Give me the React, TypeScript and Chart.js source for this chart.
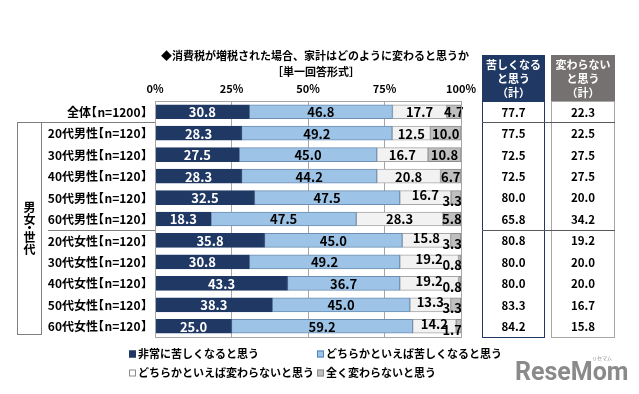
import React, { useEffect, useRef } from 'react';
import { Chart, registerables } from 'chart.js';

Chart.register(...registerables);

const categories = [
  '全体【n=1200】',
  '20代男性【n=120】',
  '30代男性【n=120】',
  '40代男性【n=120】',
  '50代男性【n=120】',
  '60代男性【n=120】',
  '20代女性【n=120】',
  '30代女性【n=120】',
  '40代女性【n=120】',
  '50代女性【n=120】',
  '60代女性【n=120】',
];
const seriesNames = [
  '非常に苦しくなると思う',
  'どちらかといえば苦しくなると思う',
  'どちらかといえば変わらないと思う',
  '全く変わらないと思う',
];
const verySevere = [30.8, 28.3, 27.5, 28.3, 32.5, 18.3, 35.8, 30.8, 43.3, 38.3, 25.0];
const somewhatSevere = [46.8, 49.2, 45.0, 44.2, 47.5, 47.5, 45.0, 49.2, 36.7, 45.0, 59.2];
const somewhatSame = [17.7, 12.5, 16.7, 20.8, 16.7, 28.3, 15.8, 19.2, 19.2, 13.3, 14.2];
const notChange = [4.7, 10.0, 10.8, 6.7, 3.3, 5.8, 3.3, 0.8, 0.8, 3.3, 1.7];
const totalHard = [77.7, 77.5, 72.5, 72.5, 80.0, 65.8, 80.8, 80.0, 80.0, 83.3, 84.2];
const totalSame = [22.3, 22.5, 27.5, 27.5, 20.0, 34.2, 19.2, 20.0, 20.0, 16.7, 15.8];
const tickValues = [0, 25, 50, 75, 100];

const title = '◆消費税が増税された場合、家計はどのように変わると思うか';
const subtitle = '［単一回答形式］';
const header1 = ['苦しくなる', 'と思う', '（計）'];
const header2 = ['変わらない', 'と思う', '（計）'];
const groupLabel = ['男', '女', '・', '世', '代'];

const FF = "'Noto Sans CJK JP', 'Noto Sans', sans-serif";
const NAVY = '#1f3864';
const fills = ['#1f3864', '#9dc3e6', '#f2f2f2', '#bfbfbf'];
const borders = ['#1f3864', '#6d8fb3', '#a6a6a6', '#8c8c8c'];
const seriesData = [verySevere, somewhatSevere, somewhatSame, notChange];

function drawCategory(c: CanvasRenderingContext2D, label: string, right: number, y: number) {
  const [pre, rest] = label.split('【');
  const inner = rest.replace('】', '');
  c.textAlign = 'left';
  const mClose = c.measureText('】');
  let x = right - mClose.actualBoundingBoxRight;
  c.fillText('】', x, y);
  const closeInkLeft = x - mClose.actualBoundingBoxLeft;
  const wInner = c.measureText(inner).width;
  const innerLeft = closeInkLeft - 0.5 - wInner;
  c.fillText(inner, innerLeft, y);
  const mOpen = c.measureText('【');
  x = innerLeft - 0.5 - mOpen.actualBoundingBoxRight;
  c.fillText('【', x, y);
  const openInkLeft = x - mOpen.actualBoundingBoxLeft;
  const wPre = c.measureText(pre).width;
  c.fillText(pre, openInkLeft - 1 - wPre, y);
}

const overlay = {
  id: 'overlay',
  beforeDraw(chart: any) {
    const c = chart.ctx;
    c.save();
    c.fillStyle = '#ffffff';
    c.fillRect(0, 0, chart.width, chart.height);
    c.restore();
  },
  afterDatasetsDraw(chart: any) {
    const c = chart.ctx;
    const area = chart.chartArea;
    c.save();
    c.font = `bold 13px ${FF}`;
    c.textBaseline = 'middle';
    for (let d = 0; d < 4; d++) {
      const meta = chart.getDatasetMeta(d);
      meta.data.forEach((bar: any, i: number) => {
        const v = seriesData[d][i];
        const p = bar.getProps(['x', 'y', 'base'], true);
        let cx = (p.x + p.base) / 2;
        let cy = p.y;
        c.textAlign = 'center';
        if (v < 4) {
          c.textAlign = 'right';
          cx = area.right + 1;
          cy += 3;
        } else if (d === 2 && notChange[i] < 4) {
          cy -= 3;
        }
        c.fillStyle = d === 0 ? '#ffffff' : '#000000';
        c.fillText(v.toFixed(1), cx, cy + 0.5);
      });
    }
    c.restore();
  },
  afterDraw(chart: any) {
    const c = chart.ctx;
    const area = chart.chartArea;
    const yS = chart.scales.y;
    c.save();
    // plot box
    c.strokeStyle = '#a6a6a6';
    c.lineWidth = 1;
    c.strokeRect(area.left + 0.5, area.top + 0.5, area.right - area.left, area.bottom - area.top);

    // category labels
    c.fillStyle = '#000';
    c.textBaseline = 'middle';
    c.font = `bold 12px ${FF}`;
    categories.forEach((lab, i) => drawCategory(c, lab, 146, yS.getPixelForValue(i) + 0.5));

    // title
    c.textAlign = 'center';
    c.font = `bold 11px ${FF}`;
    c.fillText(title, 315, 56);
    c.fillText(subtitle, 316, 72);

    const sep1 = (yS.getPixelForValue(0) + yS.getPixelForValue(1)) / 2;
    const sep2 = (yS.getPixelForValue(5) + yS.getPixelForValue(6)) / 2;

    // left group lines
    c.strokeStyle = '#7f7f7f';
    c.beginPath();
    c.moveTo(17, Math.round(sep1) + 0.5);
    c.lineTo(area.left, Math.round(sep1) + 0.5);
    c.moveTo(48, Math.round(sep2) + 0.5);
    c.lineTo(area.left, Math.round(sep2) + 0.5);
    c.stroke();
    c.strokeRect(17.5, Math.round(sep1) + 0.5, 24, area.bottom - 3 - Math.round(sep1));
    c.font = `bold 12px ${FF}`;
    const gc = (Math.round(sep1) + area.bottom - 3) / 2;
    const offs = [-21, -8.5, 0, 9, 21.5];
    groupLabel.forEach((ch, k) => c.fillText(ch, 29.5, gc + offs[k]));

    // table headers
    const hTop = 55;
    const col1 = { x: 482, w: 63 };
    const col2 = { x: 551, w: 64 };
    c.fillStyle = NAVY;
    c.fillRect(col1.x, hTop, col1.w, area.top - hTop);
    c.fillStyle = '#767171';
    c.fillRect(col2.x, hTop, col2.w, area.top - hTop);
    c.fillStyle = '#ffffff';
    c.font = `bold 11px ${FF}`;
    const hy = [65, 79, 93];
    header1.forEach((t, k) => c.fillText(t, col1.x + col1.w / 2, hy[k]));
    header2.forEach((t, k) => c.fillText(t, col2.x + col2.w / 2, hy[k]));

    // table bodies
    c.strokeStyle = NAVY;
    c.strokeRect(col1.x + 0.5, area.top + 0.5, col1.w - 1, area.bottom - area.top);
    c.strokeStyle = '#a6a6a6';
    c.strokeRect(col2.x + 0.5, area.top + 0.5, col2.w - 1, area.bottom - area.top);
    c.strokeStyle = '#595959';
    c.beginPath();
    c.moveTo(col1.x, Math.round(sep1) + 0.5);
    c.lineTo(col2.x + col2.w, Math.round(sep1) + 0.5);
    c.moveTo(col1.x, Math.round(sep2) + 0.5);
    c.lineTo(col2.x + col2.w, Math.round(sep2) + 0.5);
    c.stroke();

    c.fillStyle = '#000';
    c.font = `bold 11.5px ${FF}`;
    categories.forEach((_, i) => {
      const y = yS.getPixelForValue(i) + 0.5;
      c.fillText(totalHard[i].toFixed(1), col1.x + col1.w / 2, y);
      c.fillText(totalSame[i].toFixed(1), col2.x + col2.w / 2, y);
    });

    // legend
    const legendPos = [
      { x: 129, y: 354 },
      { x: 317, y: 354 },
      { x: 129, y: 373 },
      { x: 317, y: 373 },
    ];
    c.textAlign = 'left';
    c.font = `bold 11px ${FF}`;
    seriesNames.forEach((name, k) => {
      const p = legendPos[k];
      c.fillStyle = k === 2 ? '#ffffff' : fills[k];
      c.fillRect(p.x, p.y - 3.5, 7, 7);
      c.strokeStyle = k === 0 ? NAVY : k === 1 ? '#4f81bd' : '#8c8c8c';
      c.strokeRect(p.x + 0.5, p.y - 3, 6, 6);
      c.fillStyle = '#000';
      c.fillText(name, p.x + 9, p.y);
    });

    // logo
    c.fillStyle = '#8a8a8a';
    c.font = `bold 25px Roboto, 'Open Sans', sans-serif`;
    c.fillText('ReseMom', 515, 374);
    c.font = `5px ${FF}`;
    c.fillText('リセマム', 592, 358);
    c.restore();
  },
};

export default function App() {
  const ref = useRef<HTMLCanvasElement | null>(null);
  useEffect(() => {
    if (!ref.current) return;
    const chart = new Chart(ref.current, {
      type: 'bar',
      data: {
        labels: categories,
        datasets: seriesData.map((data, k) => ({
          label: seriesNames[k],
          data,
          backgroundColor: fills[k],
          borderColor: borders[k],
          borderWidth: 1,
          borderSkipped: false,
          barThickness: 14,
        })),
      },
      options: {
        indexAxis: 'y',
        responsive: false,
        animation: false,
        devicePixelRatio: 1,
        layout: { padding: { top: 80, right: 178, bottom: 57, left: 0 } },
        plugins: {
          legend: { display: false },
          tooltip: { enabled: false },
          title: { display: false },
        },
        scales: {
          x: {
            type: 'linear',
            position: 'top',
            stacked: true,
            min: 0,
            max: 100,
            afterBuildTicks: (s: any) => {
              s.ticks = tickValues.map((v) => ({ value: v }));
            },
            afterFit: (s: any) => {
              s.height = 21;
            },
            ticks: {
              callback: (v: any) => v + '%',
              font: { family: FF, size: 11, weight: 'bold' },
              color: '#000',
              padding: 6,
              maxRotation: 0,
            },
            grid: { color: '#a6a6a6', drawTicks: false, lineWidth: 1 },
            border: { display: true, color: '#a6a6a6' },
          },
          y: {
            type: 'category',
            stacked: true,
            afterFit: (s: any) => {
              s.width = 155;
            },
            ticks: { display: false },
            grid: { display: false },
            border: { display: false },
          },
        },
      },
      plugins: [overlay],
    } as any);
    return () => chart.destroy();
  }, []);
  return (
    <div style={{ position: 'absolute', left: 0, top: 0, width: 639, height: 394 }}>
      <canvas ref={ref} width={639} height={394} />
    </div>
  );
}
